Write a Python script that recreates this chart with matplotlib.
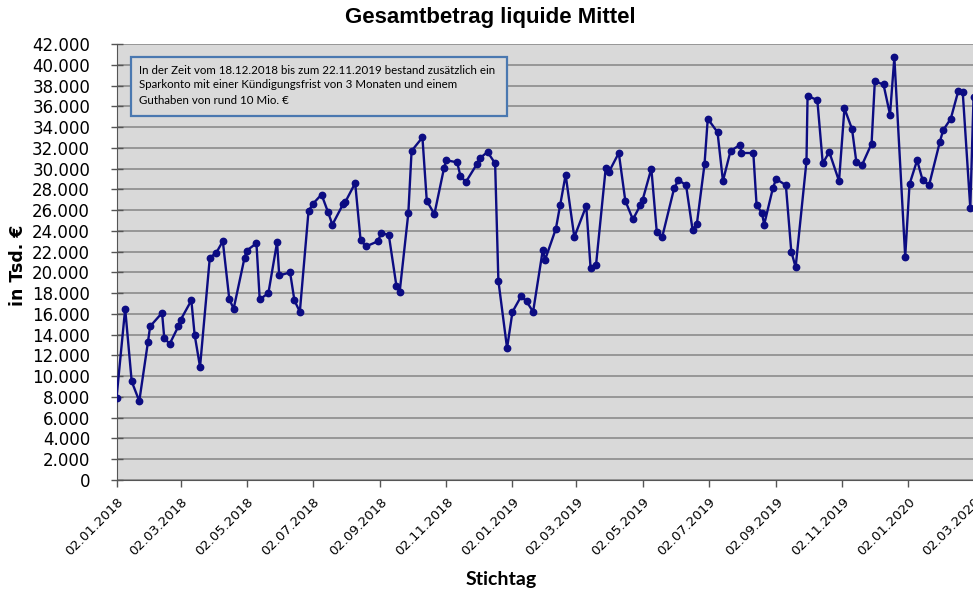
import matplotlib
matplotlib.use("Agg")
import matplotlib.pyplot as plt
import matplotlib.dates as mdates
from matplotlib.patches import Rectangle
from matplotlib.ticker import FuncFormatter, MultipleLocator
import pandas as pd

# Stichtage und Bestände (in Tsd. €)
stichtage = [
    "2018-01-02", "2018-01-10", "2018-01-16", "2018-01-23", "2018-01-31", "2018-02-02",
    "2018-02-13", "2018-02-15", "2018-02-20", "2018-02-28", "2018-03-02", "2018-03-12",
    "2018-03-15", "2018-03-20", "2018-03-29", "2018-04-04", "2018-04-10", "2018-04-16",
    "2018-04-20", "2018-04-30", "2018-05-02", "2018-05-11", "2018-05-14", "2018-05-22",
    "2018-05-30", "2018-06-01", "2018-06-11", "2018-06-15", "2018-06-20", "2018-06-28",
    "2018-07-02", "2018-07-10", "2018-07-16", "2018-07-20", "2018-07-30", "2018-08-01",
    "2018-08-10", "2018-08-15", "2018-08-20", "2018-08-31", "2018-09-03", "2018-09-10",
    "2018-09-17", "2018-09-20", "2018-09-28", "2018-10-01", "2018-10-11", "2018-10-15",
    "2018-10-22", "2018-10-31", "2018-11-02", "2018-11-12", "2018-11-15", "2018-11-20",
    "2018-11-30", "2018-12-03", "2018-12-10", "2018-12-17", "2018-12-20", "2018-12-28",
    "2019-01-02", "2019-01-10", "2019-01-15", "2019-01-21", "2019-01-30", "2019-02-01",
    "2019-02-11", "2019-02-15", "2019-02-20", "2019-02-28", "2019-03-11", "2019-03-15",
    "2019-03-20", "2019-03-29", "2019-04-01", "2019-04-10", "2019-04-16", "2019-04-23",
    "2019-04-30", "2019-05-02", "2019-05-10", "2019-05-15", "2019-05-20", "2019-05-31",
    "2019-06-04", "2019-06-11", "2019-06-17", "2019-06-21", "2019-06-28", "2019-07-01",
    "2019-07-10", "2019-07-15", "2019-07-22", "2019-07-31", "2019-08-01", "2019-08-12",
    "2019-08-15", "2019-08-20", "2019-08-22", "2019-08-30", "2019-09-02", "2019-09-11",
    "2019-09-16", "2019-09-20", "2019-09-30", "2019-10-01", "2019-10-10", "2019-10-15",
    "2019-10-21", "2019-10-30", "2019-11-04", "2019-11-11", "2019-11-15", "2019-11-20",
    "2019-11-29", "2019-12-02", "2019-12-10", "2019-12-16", "2019-12-20", "2019-12-30",
    "2020-01-03", "2020-01-10", "2020-01-15", "2020-01-21", "2020-01-31", "2020-02-03",
    "2020-02-10", "2020-02-17", "2020-02-21", "2020-02-28", "2020-03-02",
]
bestand = [
    7900, 16500, 9500, 7600, 13300, 14800,
    16100, 13700, 13100, 14800, 15400, 17300,
    14000, 10900, 21400, 21900, 23000, 17400,
    16500, 21400, 22100, 22800, 17400, 18000,
    22900, 19700, 20000, 17300, 16200, 25900,
    26600, 27500, 25800, 24600, 26600, 26800,
    28600, 23100, 22500, 23000, 23800, 23600,
    18700, 18100, 25700, 31700, 33000, 26900,
    25600, 30100, 30800, 30600, 29300, 28700,
    30400, 31000, 31600, 30500, 19200, 12700,
    16200, 17700, 17200, 16200, 22200, 21200,
    24200, 26500, 29400, 23400, 26400, 20400,
    20700, 30100, 29700, 31500, 26900, 25100,
    26500, 27000, 30000, 23900, 23400, 28100,
    28900, 28400, 24100, 24700, 30400, 34800,
    33500, 28800, 31700, 32300, 31500, 31500,
    26500, 25700, 24600, 28100, 29000, 28400,
    22000, 20500, 30700, 37000, 36600, 30500,
    31600, 28800, 35800, 33800, 30600, 30300,
    32400, 38400, 38100, 35200, 40700, 21500,
    28500, 30800, 28900, 28400, 32600, 33700,
    34800, 37500, 37400, 26200, 36900,
]

titel = "Gesamtbetrag liquide Mittel"
y_titel = "in Tsd. €"
x_titel = "Stichtag"
hinweis = [
    "In der Zeit vom 18.12.2018 bis zum 22.11.2019 bestand zusätzlich ein",
    "Sparkonto mit einer Kündigungsfrist von 3 Monaten und einem",
    "Guthaben von rund 10 Mio. €",
]

W, H = 973, 593
fig = plt.figure(figsize=(W / 100, H / 100), dpi=100)
fig.patch.set_facecolor("white")

# axes run past the right edge, like the cropped original
ax = fig.add_axes([116.5 / W, 113 / H, 882 / W, 436 / H])
ax.set_facecolor("#d9d9d9")

dates = pd.to_datetime(stichtage)
ax.plot(dates, bestand, color="#0c0c82", lw=1.7, marker="o", ms=4.6,
        clip_on=True, zorder=3)

ax.set_ylim(0, 42000)
ax.set_xlim(pd.Timestamp("2018-01-02"), pd.Timestamp("2020-03-25"))
ax.yaxis.set_major_locator(MultipleLocator(2000))
ax.yaxis.set_major_formatter(FuncFormatter(lambda v, p: f"{int(v):,}".replace(",", ".")))
ax.xaxis.set_major_locator(mdates.MonthLocator(bymonth=[1, 3, 5, 7, 9, 11], bymonthday=2))
ax.xaxis.set_major_formatter(mdates.DateFormatter("%d.%m.%Y"))

ax.grid(axis="y", color="#858585", lw=1.1)
ax.set_axisbelow(True)
for s in ["top", "right"]:
    ax.spines[s].set_visible(False)
ax.spines["left"].set_color("#555555")
ax.spines["bottom"].set_color("#555555")

ax.tick_params(axis="y", direction="inout", length=8, width=1, color="#555555",
               labelsize=12, pad=15)
ax.tick_params(axis="x", direction="out", length=5, width=1, color="#555555",
               labelsize=9.5, pad=6)
for lbl in ax.get_xticklabels():
    lbl.set_rotation(45)
    lbl.set_ha("right")
    lbl.set_va("top")
    lbl.set_rotation_mode("anchor")

fig.text(490 / W, 1 - 18 / H, titel, ha="center", va="center",
         fontsize=16, fontweight="bold", family="Liberation Sans")
fig.text(18 / W, 1 - 265 / H, y_titel, ha="center", va="center", rotation=90,
         fontsize=12.5, fontweight="bold")
fig.text(501 / W, 1 - 579 / H, x_titel, ha="center", va="center",
         fontsize=14, fontweight="bold", family="Lato")

box = Rectangle((131 / W, 1 - 116 / H), 376 / W, 59 / H, transform=fig.transFigure,
                facecolor="#dadada", edgecolor="#4a78b0", lw=1.6, zorder=5)
fig.patches.append(box)
for i, zeile in enumerate(hinweis):
    fig.text(139 / W, 1 - (70 + 15 * i) / H, zeile, ha="left", va="center",
             fontsize=8.3, family="Lato", zorder=6)

fig.savefig("out.png", dpi=100)
